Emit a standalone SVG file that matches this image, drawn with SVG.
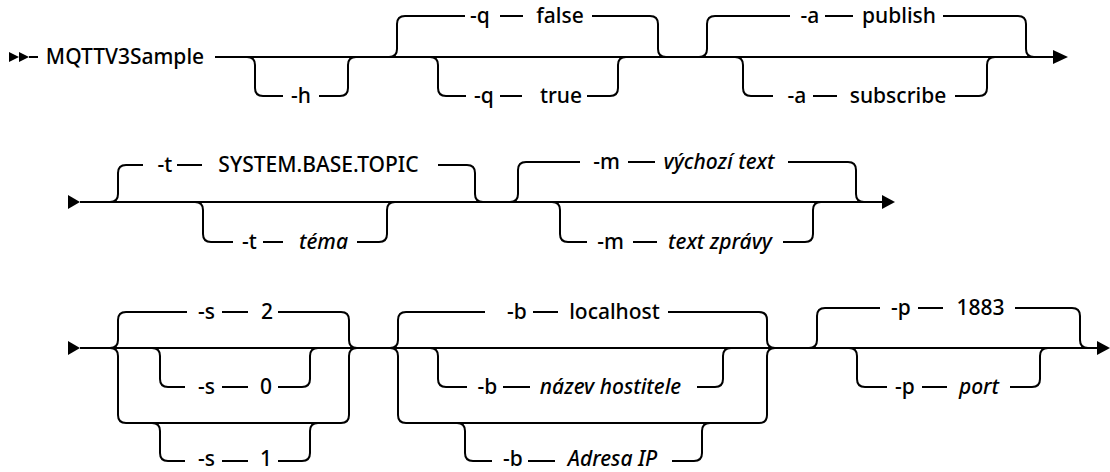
<svg xmlns="http://www.w3.org/2000/svg" width="1110" height="472" viewBox="0 0 1110 472">
<style>
.ln{fill:none;stroke:#000;stroke-width:2}
.ar{fill:#000;stroke:none}
.t{font-family:"Noto Sans","Liberation Sans",Arial,sans-serif;font-size:21px;font-weight:500;text-anchor:middle;fill:#000}
.i{font-style:italic}
</style>
<rect width="1110" height="472" fill="#fff"/>
<g id="connectors">
<!-- row 1 -->
<polygon class="ar" points="9,52 19,57 9,62"/>
<polygon class="ar" points="19,52 29,57 19,62"/>
<path class="ln" d="M29,57 L38,57"/>
<path class="ln" d="M215,57 L1053,57"/>
<polygon class="ar" points="1053,50 1068,57 1053,64"/>
<path class="ln" d="M247,57 Q255,57 255,65 L255,88 Q255,96 263,96 L283,96"/>
<path class="ln" d="M319,96 L340,96 Q348,96 348,88 L348,65 Q348,57 356,57"/>
<path class="ln" d="M389,57 Q397,57 397,49 L397,24 Q397,16 405,16 L465,16"/>
<path class="ln" d="M500,16 L523,16"/>
<path class="ln" d="M592,16 L650,16 Q658,16 658,24 L658,49 Q658,57 666,57"/>
<path class="ln" d="M430,57 Q438,57 438,65 L438,88 Q438,96 446,96 L466,96"/>
<path class="ln" d="M500,96 L522,96"/>
<path class="ln" d="M587,96 L610,96 Q618,96 618,88 L618,65 Q618,57 626,57"/>
<path class="ln" d="M699,57 Q707,57 707,49 L707,24 Q707,16 715,16 L790,16"/>
<path class="ln" d="M825,16 L853,16"/>
<path class="ln" d="M943,16 L1018,16 Q1026,16 1026,24 L1026,49 Q1026,57 1034,57"/>
<path class="ln" d="M735,57 Q743,57 743,65 L743,88 Q743,96 751,96 L773,96"/>
<path class="ln" d="M813,96 L837,96"/>
<path class="ln" d="M955,96 L979,96 Q987,96 987,88 L987,65 Q987,57 995,57"/>
<!-- row 2 -->
<polygon class="ar" points="68,195 80,202 68,209"/>
<path class="ln" d="M80,202 L882,202"/>
<polygon class="ar" points="882,195 895,202 882,209"/>
<path class="ln" d="M110,202 Q118,202 118,194 L118,173 Q118,165 126,165 L143,165"/>
<path class="ln" d="M177,165 L202,165"/>
<path class="ln" d="M438,165 L467,165 Q475,165 475,173 L475,194 Q475,202 483,202"/>
<path class="ln" d="M195,202 Q203,202 203,210 L203,234 Q203,242 211,242 L233,242"/>
<path class="ln" d="M263,242 L283,242"/>
<path class="ln" d="M357,242 L379,242 Q387,242 387,234 L387,210 Q387,202 395,202"/>
<path class="ln" d="M510,202 Q518,202 518,194 L518,170 Q518,162 526,162 L580,162"/>
<path class="ln" d="M628,162 L655,162"/>
<path class="ln" d="M788,162 L848,162 Q856,162 856,170 L856,194 Q856,202 864,202"/>
<path class="ln" d="M552,202 Q560,202 560,210 L560,234 Q560,242 568,242 L587,242"/>
<path class="ln" d="M633,242 L657,242"/>
<path class="ln" d="M783,242 L805,242 Q813,242 813,234 L813,210 Q813,202 821,202"/>
<!-- row 3 -->
<polygon class="ar" points="68,341 80,348 68,355"/>
<path class="ln" d="M80,348 L1097,348"/>
<polygon class="ar" points="1097,341 1110,348 1097,355"/>
<path class="ln" d="M110,348 Q118,348 118,340 L118,320 Q118,312 126,312 L187,312"/>
<path class="ln" d="M110,348 Q118,348 118,356 L118,415 Q118,423 126,423 L341,423 Q349,423 349,415 L349,356 Q349,348 357,348"/>
<path class="ln" d="M222,312 L248,312"/>
<path class="ln" d="M278,312 L341,312 Q349,312 349,320 L349,340 Q349,348 357,348"/>
<path class="ln" d="M152,348 Q160,348 160,356 L160,379 Q160,387 168,387 L185,387"/>
<path class="ln" d="M222,387 L248,387"/>
<path class="ln" d="M278,387 L302,387 Q310,387 310,379 L310,356 Q310,348 318,348"/>
<path class="ln" d="M152,423 Q160,423 160,431 L160,453 Q160,461 168,461 L185,461"/>
<path class="ln" d="M222,461 L248,461"/>
<path class="ln" d="M278,461 L302,461 Q310,461 310,453 L310,431 Q310,423 318,423"/>
<path class="ln" d="M390,348 Q398,348 398,340 L398,320 Q398,312 406,312 L485,312"/>
<path class="ln" d="M390,348 Q398,348 398,356 L398,415 Q398,423 406,423 L759,423 Q767,423 767,415 L767,356 Q767,348 775,348"/>
<path class="ln" d="M533,312 L558,312"/>
<path class="ln" d="M668,312 L759,312 Q767,312 767,320 L767,340 Q767,348 775,348"/>
<path class="ln" d="M430,348 Q438,348 438,356 L438,379 Q438,387 446,387 L467,387"/>
<path class="ln" d="M503,387 L530,387"/>
<path class="ln" d="M697,387 L715,387 Q723,387 723,379 L723,356 Q723,348 731,348"/>
<path class="ln" d="M457,423 Q465,423 465,431 L465,453 Q465,461 473,461 L492,461"/>
<path class="ln" d="M528,461 L555,461"/>
<path class="ln" d="M672,461 L694,461 Q702,461 702,453 L702,431 Q702,423 710,423"/>
<path class="ln" d="M809,348 Q817,348 817,340 L817,316 Q817,308 825,308 L880,308"/>
<path class="ln" d="M918,308 L943,308"/>
<path class="ln" d="M1015,308 L1072,308 Q1080,308 1080,316 L1080,340 Q1080,348 1088,348"/>
<path class="ln" d="M849,348 Q857,348 857,356 L857,379 Q857,387 865,387 L887,387"/>
<path class="ln" d="M922,387 L947,387"/>
<path class="ln" d="M1010,387 L1032,387 Q1040,387 1040,379 L1040,356 Q1040,348 1048,348"/>
</g>
<g id="n-cmd"><text class="t" x="125" y="64">MQTTV3Sample</text></g>
<g id="n-h"><text class="t" x="301" y="103">-h</text></g>
<g id="n-q-false"><text class="t" x="480" y="23">-q</text><text class="t" x="560" y="23">false</text></g>
<g id="n-q-true"><text class="t" x="484" y="103">-q</text><text class="t" x="561" y="103">true</text></g>
<g id="n-a-publish"><text class="t" x="810" y="23">-a</text><text class="t" x="899" y="23">publish</text></g>
<g id="n-a-subscribe"><text class="t" x="797" y="103">-a</text><text class="t" x="898" y="103">subscribe</text></g>
<g id="n-t-default"><text class="t" x="165" y="172">-t</text><text class="t" x="318.5" y="172">SYSTEM.BASE.TOPIC</text></g>
<g id="n-t-tema"><text class="t" x="249.5" y="249">-t</text><text class="t i" x="323.5" y="249">téma</text></g>
<g id="n-m-default"><text class="t" x="606.5" y="169">-m</text><text class="t i" x="719" y="169">výchozí text</text></g>
<g id="n-m-text"><text class="t" x="610.5" y="249">-m</text><text class="t i" x="720" y="249">text zprávy</text></g>
<g id="n-s-2"><text class="t" x="206.5" y="319">-s</text><text class="t" x="267" y="319">2</text></g>
<g id="n-s-0"><text class="t" x="206.5" y="394">-s</text><text class="t" x="266" y="394">0</text></g>
<g id="n-s-1"><text class="t" x="206.5" y="466">-s</text><text class="t" x="266" y="466">1</text></g>
<g id="n-b-localhost"><text class="t" x="517" y="319">-b</text><text class="t" x="614.5" y="319">localhost</text></g>
<g id="n-b-host"><text class="t" x="487.5" y="394">-b</text><text class="t i" x="610.5" y="394">název hostitele</text></g>
<g id="n-b-ip"><text class="t" x="513" y="466">-b</text><text class="t i" x="612.5" y="466">Adresa IP</text></g>
<g id="n-p-1883"><text class="t" x="901" y="315">-p</text><text class="t" x="980.5" y="315">1883</text></g>
<g id="n-p-port"><text class="t" x="905" y="394">-p</text><text class="t i" x="979" y="394">port</text></g>
</svg>
